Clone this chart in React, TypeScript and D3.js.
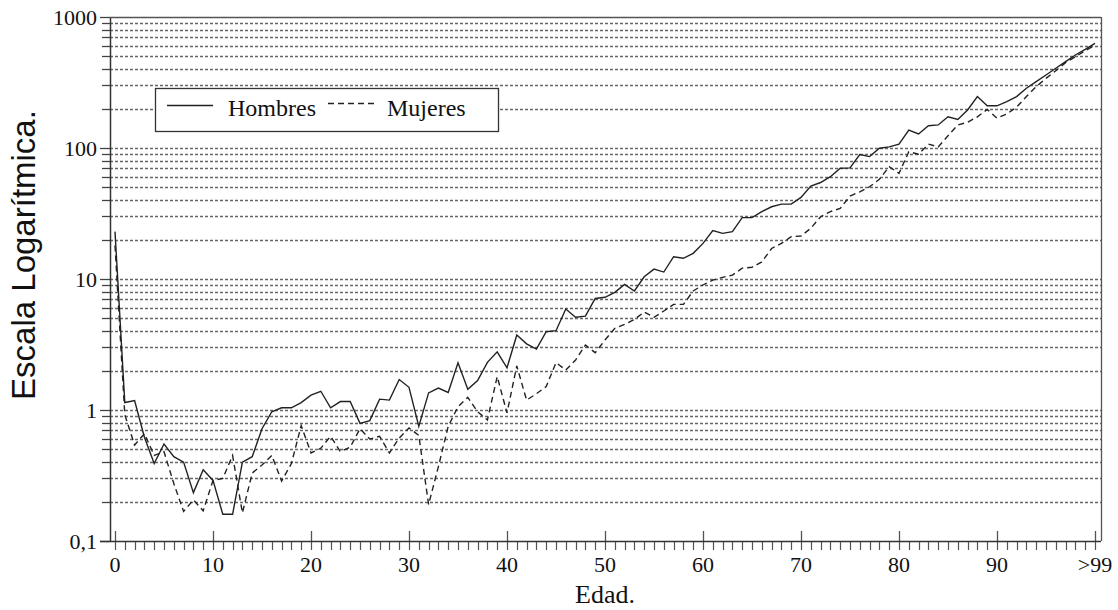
import React from "react";
import * as d3 from "d3";

const ages: number[] = Array.from({ length: 101 }, (_, i) => i);

const hombres: number[] = [
  23, 1.14, 1.18, 0.62, 0.39, 0.55, 0.44, 0.40, 0.234, 0.35,
  0.29, 0.16, 0.16, 0.40, 0.44, 0.72, 0.97, 1.04, 1.04, 1.14,
  1.30, 1.39, 1.04, 1.16, 1.16, 0.79, 0.83, 1.21, 1.19, 1.71,
  1.49, 0.75, 1.35, 1.47, 1.36, 2.29, 1.44, 1.68, 2.31, 2.78,
  2.10, 3.74, 3.2, 2.92, 3.96, 4.03, 5.9, 5.1, 5.2, 7.1,
  7.25, 7.9, 9.1, 8.1, 10.4, 11.9, 11.3, 14.8, 14.4, 15.7,
  18.7, 23.4, 22.3, 23.0, 29.4, 29.4, 32.7, 35.6, 37.3, 37.3,
  42, 51.3, 54.5, 60.4, 70, 70.5, 89, 86, 99.6, 102,
  107, 137, 128, 148, 150, 173, 165, 195, 247, 210,
  210, 226, 247, 286, 321, 361, 406, 456, 513, 567,
  630,
];

const mujeres: number[] = [
  18, 0.92, 0.54, 0.66, 0.45, 0.48, 0.275, 0.168, 0.206, 0.17,
  0.29, 0.30, 0.45, 0.164, 0.33, 0.38, 0.45, 0.287, 0.39, 0.76,
  0.47, 0.51, 0.63, 0.48, 0.52, 0.72, 0.60, 0.63, 0.47, 0.61,
  0.73, 0.64, 0.19, 0.37, 0.75, 1.06, 1.25, 0.97, 0.84, 1.80,
  0.95, 2.17, 1.19, 1.33, 1.51, 2.30, 2.02, 2.41, 3.13, 2.74,
  3.42, 4.2, 4.5, 4.9, 5.6, 5.1, 5.7, 6.4, 6.4, 8.1,
  9.0, 9.8, 10.3, 10.7, 12.1, 12.3, 13.5, 17.1, 18.7, 21,
  21.3, 24.4, 29.9, 32.7, 34.6, 43, 46.3, 50.6, 57.7, 72,
  64, 93.7, 89.6, 107, 102, 124, 150, 157, 173, 197,
  169, 182, 205, 247, 294, 340, 389, 448, 497, 553,
  611,
];

const yMajorTicks: number[] = [0.1, 1, 10, 100, 1000];
const yMajorLabels: string[] = ["0,1", "1", "10", "100", "1000"];
const xMajorTicks: number[] = [0, 10, 20, 30, 40, 50, 60, 70, 80, 90, 100];
const xMajorLabels: string[] = ["0", "10", "20", "30", "40", "50", "60", "70", "80", "90", ">99"];
const seriesNames: string[] = ["Hombres", "Mujeres"];

const W = 1118;
const H = 610;
const left = 110;
const right = 1101;
const top = 17;
const bottom = 541;

const SERIF = "'Liberation Serif', 'Times New Roman', serif";
const SANS = "'Liberation Sans', Arial, sans-serif";
const LINE = "#222";

export default function App() {
  const x = d3.scaleLinear().domain([0, 100]).range([115, 1095]);
  const y = d3.scaleLog().domain([0.1, 1000]).range([bottom, top]);

  const allYTicks = y.ticks();
  const gridTicks = allYTicks.filter((t) => t > 0.1 + 1e-9 && t < 1000 - 1e-6);

  const line = d3
    .line<number>()
    .x((_, i) => x(ages[i]))
    .y((d) => y(d));

  return (
    <svg
      width={W}
      height={H}
      style={{ position: "absolute", left: 0, top: 0, background: "#fff" }}
    >
      <rect x={0} y={0} width={W} height={H} fill="#fff" />
      {/* grid */}
      {gridTicks.map((t, i) => (
        <line
          key={"g" + i}
          x1={left}
          x2={right}
          y1={Math.round(y(t)) + 0.5}
          y2={Math.round(y(t)) + 0.5}
          stroke="#666"
          strokeWidth={1.3}
          strokeDasharray="3,2"
        />
      ))}
      {/* y ticks */}
      {allYTicks.map((t, i) => {
        const major = yMajorTicks.some((m) => Math.abs(m - t) / m < 1e-6);
        return (
          <line
            key={"yt" + i}
            x1={major ? 100 : 102}
            x2={left}
            y1={Math.round(y(t)) + 0.5}
            y2={Math.round(y(t)) + 0.5}
            stroke="#444"
            strokeWidth={1.3}
          />
        );
      })}
      {yMajorTicks.map((t, i) => (
        <text
          key={"yl" + i}
          x={97}
          y={y(t)}
          dy="0.35em"
          textAnchor="end"
          fontFamily={SERIF}
          fontSize={22}
          fill="#111"
        >
          {yMajorLabels[i]}
        </text>
      ))}
      {/* x ticks */}
      {ages.map((a) => (
        <line
          key={"xt" + a}
          x1={Math.round(x(a)) + 0.5}
          x2={Math.round(x(a)) + 0.5}
          y1={bottom}
          y2={bottom + 9}
          stroke="#555"
          strokeWidth={1.2}
        />
      ))}
      {xMajorTicks.map((a, i) => (
        <g key={"xm" + a}>
          <line
            x1={Math.round(x(a)) + 0.5}
            x2={Math.round(x(a)) + 0.5}
            y1={bottom - 10}
            y2={bottom}
            stroke="#555"
            strokeWidth={1.3}
          />
          <text
            x={x(a)}
            y={572}
            textAnchor="middle"
            fontFamily={SERIF}
            fontSize={22}
            fill="#111"
          >
            {xMajorLabels[i]}
          </text>
        </g>
      ))}
      {/* frame */}
      <line x1={left + 0.5} x2={left + 0.5} y1={top} y2={bottom} stroke="#333" strokeWidth={1.5} />
      <line x1={100} x2={right} y1={bottom + 0.5} y2={bottom + 0.5} stroke="#333" strokeWidth={1.5} />
      <line x1={left} x2={right} y1={top + 0.5} y2={top + 0.5} stroke="#555" strokeWidth={1.3} />
      <line x1={right + 0.5} x2={right + 0.5} y1={top} y2={bottom} stroke="#555" strokeWidth={1.3} />
      {/* series */}
      <path d={line(hombres) || ""} fill="none" stroke={LINE} strokeWidth={1.4} />
      <path
        d={line(mujeres) || ""}
        fill="none"
        stroke={LINE}
        strokeWidth={1.4}
        strokeDasharray="6,4"
      />
      {/* legend */}
      <rect x={155.5} y={88.5} width={343} height={43} fill="#fff" stroke="#333" strokeWidth={1.3} />
      <line x1={167} x2={213} y1={105.5} y2={105.5} stroke={LINE} strokeWidth={1.4} />
      <text x={228} y={116} fontFamily={SERIF} fontSize={24} fill="#111">
        {seriesNames[0]}
      </text>
      <line
        x1={328}
        x2={374}
        y1={103.5}
        y2={103.5}
        stroke={LINE}
        strokeWidth={1.4}
        strokeDasharray="6,4"
      />
      <text x={387} y={116} fontFamily={SERIF} fontSize={24} fill="#111">
        {seriesNames[1]}
      </text>
      {/* axis titles */}
      <text
        x={605}
        y={603}
        textAnchor="middle"
        fontFamily={SERIF}
        fontSize={26}
        fill="#111"
      >
        Edad.
      </text>
      <text
        transform="translate(35,255) rotate(-90)"
        textAnchor="middle"
        fontFamily={SANS}
        fontSize={33}
        fill="#111"
      >
        Escala Logarítmica.
      </text>
    </svg>
  );
}
